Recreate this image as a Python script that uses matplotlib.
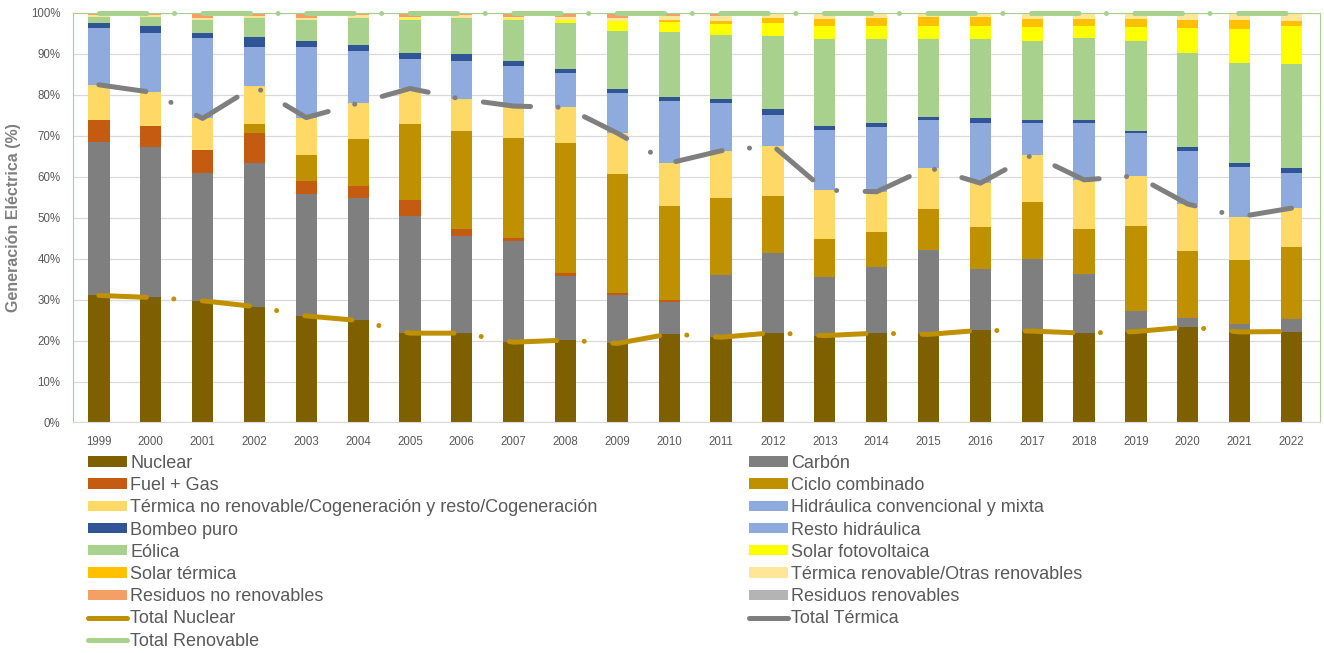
import matplotlib
matplotlib.use("Agg")
import matplotlib.pyplot as plt
import numpy as np
from matplotlib.patches import Patch
from matplotlib.lines import Line2D

plt.rcParams['font.family'] = ['Liberation Sans', 'DejaVu Sans']

# Generación eléctrica por tecnología (% del total anual)
years = [str(y) for y in range(1999, 2023)]

nuclear = [31.0, 30.5, 29.7, 28.3, 26.0, 24.9, 21.8, 21.8, 19.6, 20.1, 19.3, 21.6,
           20.8, 21.9, 21.2, 21.8, 21.5, 22.5, 22.3, 21.8, 22.2, 23.3, 22.1, 22.2]
carbon = [37.4, 36.8, 31.1, 35.1, 29.8, 29.8, 28.6, 23.7, 24.7, 15.7, 11.7, 7.7,
          15.1, 19.4, 14.2, 16.2, 20.6, 14.9, 17.6, 14.5, 5.0, 2.1, 2.0, 3.1]
fuel_gas = [5.3, 5.1, 5.7, 7.2, 3.1, 2.9, 3.9, 1.8, 0.7, 0.6, 0.7, 0.6,
            0, 0, 0, 0, 0, 0, 0, 0, 0, 0, 0, 0]
ciclo_comb = [0, 0, 0, 2.2, 6.4, 11.6, 18.5, 23.8, 24.5, 31.7, 28.9, 22.9,
              18.8, 14.0, 9.3, 8.6, 9.9, 10.2, 13.8, 10.9, 20.8, 16.5, 15.6, 17.5]
cogeneracion = [8.7, 8.2, 7.7, 9.2, 9.1, 8.7, 8.7, 7.8, 7.7, 8.8, 10.0, 10.5,
                11.6, 12.2, 12.0, 9.7, 10.2, 10.8, 11.6, 12.0, 12.2, 11.4, 10.5, 9.5]
hidraulica = [13.8, 14.4, 19.5, 9.7, 17.3, 12.8, 7.1, 9.4, 9.8, 8.3, 9.9, 15.2,
              11.7, 7.5, 14.7, 15.7, 11.5, 14.6, 7.7, 13.8, 10.4, 13.0, 12.2, 8.5]
bombeo = [1.4, 1.7, 1.4, 2.3, 1.5, 1.3, 1.5, 1.5, 1.2, 1.0, 0.9, 1.0,
          0.9, 1.4, 1.0, 1.2, 0.8, 1.2, 0.7, 0.7, 0.5, 0.9, 0.9, 1.2]
resto_hidr = [0] * 24
eolica = [1.3, 2.3, 3.1, 4.6, 4.9, 6.6, 8.0, 8.8, 10.0, 11.4, 14.2, 15.9,
          15.7, 17.9, 21.1, 20.3, 19.0, 19.3, 19.5, 20.0, 22.0, 22.9, 24.3, 25.4]
solar_fv = [0, 0, 0, 0, 0, 0, 0.3, 0, 0.2, 0.6, 2.4, 2.4,
            2.6, 3.3, 3.3, 3.2, 3.2, 3.2, 3.4, 3.0, 3.3, 6.1, 8.5, 9.3]
solar_term = [0, 0, 0, 0, 0, 0, 0, 0, 0, 0, 0, 0.4,
              0.8, 1.0, 1.7, 1.9, 2.2, 2.2, 1.9, 1.8, 2.1, 2.0, 2.1, 1.3]
term_renov = [0.5, 0.4, 0.6, 0.6, 0.6, 0.8, 0.5, 0.8, 0.6, 0.8, 0.8, 0.9,
              1.2, 1.0, 1.5, 1.4, 1.1, 1.1, 1.5, 1.5, 1.5, 1.8, 1.8, 2.0]
residuos_no_renov = [0.6, 0.6, 1.2, 0.8, 1.3, 0.6, 1.0, 0.6, 1.0, 0.6, 1.2, 0.5,
                     0.6, 0.4, 0, 0, 0, 0, 0, 0, 0, 0, 0, 0]
residuos_renov = [0, 0, 0, 0, 0, 0, 0, 0, 0, 0.4, 0, 0.4,
                  0, 0, 0, 0, 0, 0, 0, 0, 0, 0, 0, 0]
total_renovable = [100] * 24

series = [
    ('Nuclear', nuclear, '#7F6000'),
    ('Carbón', carbon, '#7F7F7F'),
    ('Fuel + Gas', fuel_gas, '#C55A11'),
    ('Ciclo combinado', ciclo_comb, '#BF9000'),
    ('Térmica no renovable/Cogeneración y resto/Cogeneración', cogeneracion, '#FFD966'),
    ('Hidráulica convencional y mixta', hidraulica, '#8FAADC'),
    ('Bombeo puro', bombeo, '#2F5597'),
    ('Resto hidráulica', resto_hidr, '#8EA9DB'),
    ('Eólica', eolica, '#A9D18E'),
    ('Solar fotovoltaica', solar_fv, '#FFFF00'),
    ('Solar térmica', solar_term, '#FFC000'),
    ('Térmica renovable/Otras renovables', term_renov, '#FFE699'),
    ('Residuos no renovables', residuos_no_renov, '#F4A064'),
    ('Residuos renovables', residuos_renov, '#B4B4B4'),
]

total_nuclear = np.array(nuclear)
total_termica = (np.array(nuclear) + np.array(carbon) + np.array(fuel_gas)
                 + np.array(ciclo_comb) + np.array(cogeneracion))

fig = plt.figure(figsize=(13.24, 6.53), dpi=100)
ax = fig.add_axes([0.0551, 0.353, 0.9419, 0.6276])

x = np.arange(len(years))
bottom = np.zeros(len(years))
handles = {}
for name, vals, col in series:
    v = np.array(vals, dtype=float)
    ax.bar(x, v, 0.41, bottom=bottom, color=col, zorder=2)
    bottom += v
    handles[name] = Patch(facecolor=col)

# líneas de totales: raya larga - punto
dash = (0, (9.5, 5.5, 0.01, 5.7))
lw = 3.6
ax.plot(x, total_nuclear, color='#BF9000', lw=lw, ls=dash, dash_capstyle='round', zorder=4)
ax.plot(x, total_termica, color='#7F7F7F', lw=lw, ls=dash, dash_capstyle='round', zorder=4)
ax.plot(x, total_renovable, color='#A9D18E', lw=lw, ls=dash, dash_capstyle='round',
        zorder=4, clip_on=False)
handles['Total Nuclear'] = Line2D([], [], color='#BF9000', lw=lw, solid_capstyle='round')
handles['Total Térmica'] = Line2D([], [], color='#7F7F7F', lw=lw, solid_capstyle='round')
handles['Total Renovable'] = Line2D([], [], color='#A9D18E', lw=lw, solid_capstyle='round')

ax.set_xlim(-0.5, 23.55)
ax.set_ylim(0, 100)
ax.set_yticks(np.arange(0, 101, 10))
ax.set_yticklabels([f'{v}%' for v in range(0, 101, 10)])
ax.set_xticks(x)
ax.set_xticklabels(years)
ax.tick_params(axis='both', length=0, labelsize=8.3, colors='#595959')
ax.tick_params(axis='y', pad=9)
ax.tick_params(axis='x', pad=10)
ax.grid(axis='y', color='#D9D9D9', lw=0.9, zorder=0)
ax.set_axisbelow(True)
for s in ['left', 'right', 'top']:
    ax.spines[s].set_color('#A9D18E')
    ax.spines[s].set_linewidth(0.8)
ax.spines['bottom'].set_color('#D9D9D9')
ax.set_ylabel('Generación Eléctrica (%)', fontsize=11.5, fontweight='bold',
              color='#808080', labelpad=7)

col1 = ['Nuclear', 'Fuel + Gas', 'Térmica no renovable/Cogeneración y resto/Cogeneración',
        'Bombeo puro', 'Eólica', 'Solar térmica', 'Residuos no renovables',
        'Total Nuclear', 'Total Renovable']
col2 = ['Carbón', 'Ciclo combinado', 'Hidráulica convencional y mixta', 'Resto hidráulica',
        'Solar fotovoltaica', 'Térmica renovable/Otras renovables', 'Residuos renovables',
        'Total Térmica']

leg_kw = dict(loc='upper left', frameon=False, fontsize=13, borderpad=0, borderaxespad=0,
              handlelength=2.15, handleheight=0.5, handletextpad=0.2, labelspacing=0.29,
              labelcolor='#595959')
leg1 = fig.legend([handles[n] for n in col1], col1, bbox_to_anchor=(0.0665, 0.3035), **leg_kw)
leg2 = fig.legend([handles[n] for n in col2], col2, bbox_to_anchor=(0.5655, 0.3035), **leg_kw)

fig.savefig('out.png', dpi=100)
